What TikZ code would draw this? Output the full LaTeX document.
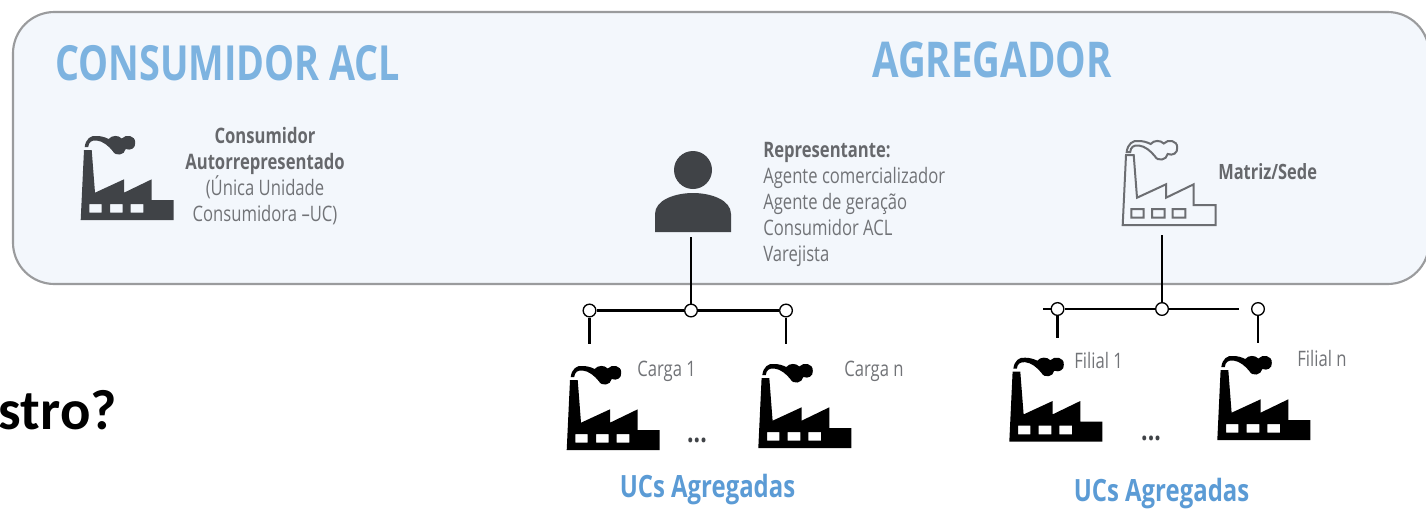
\documentclass[tikz,border=0pt]{standalone}
\usepackage{fontspec}
\setmainfont{Open Sans}[FakeStretch=0.78]
\newfontfamily\cutfont{Carlito}
\definecolor{panelfill}{HTML}{F3F7FC}
\definecolor{panelline}{HTML}{9A9B9D}
\definecolor{titleblue}{HTML}{7DB3E0}
\definecolor{ucblue}{HTML}{5B9BD5}
\definecolor{darkicon}{HTML}{404347}
\definecolor{boldgrey}{HTML}{66686C}
\definecolor{textgrey}{HTML}{717377}
\definecolor{outlinegrey}{HTML}{6C6E72}

\begin{document}
\begin{tikzpicture}[x=0.75pt,y=-0.75pt]
    \tikzset{factory/.pic={
        \path [pic actions,even odd rule] (0,0) -- (3.3,-70) -- (11,-70) -- (14.3,-27.3)
        -- (43.3,-40.7) -- (43.3,-27.3) -- (71,-40.7) -- (71,-20) -- (93,-20) -- (93,0) -- cycle
        (8.7,-16) rectangle (21,-7.3) (29.3,-16) rectangle (42,-7.3) (50,-16) rectangle (62.7,-7.3);
        \path [pic actions] (4,-73) .. controls (5,-81) and (10,-85) .. (16,-84)
        .. controls (20,-84) and (24,-83) .. (28,-81) .. controls (31,-85) and (38,-85) .. (41,-81.5)
        .. controls (45,-86) and (55,-85) .. (54.5,-77) .. controls (55,-72) and (50,-69) .. (45,-71)
        .. controls (44,-65) and (35,-63) .. (32,-69) .. controls (28,-74) and (22,-79) .. (16,-79.5)
        .. controls (11,-80) and (8,-78) .. (7.5,-73) -- cycle;
    }}
    \tikzset{person/.pic={
        \path [pic actions] (0,0) -- (0,-18) .. controls (0,-32) and (20,-39) .. (38,-39)
        .. controls (56,-39) and (76,-32) .. (76,-18) -- (76,0) -- cycle;
        \path [pic actions] (38,-62) circle (19);
    }}
    \tikzstyle{panelbox}=[draw=panelline,fill=panelfill,line width=1.6pt,rounded corners=31pt,
        minimum width=1062pt,minimum height=204pt,inner sep=0pt];
    \tikzstyle{hub}=[draw=black,fill=white,circle,line width=1pt,minimum size=9.5pt,inner sep=0pt];
    \tikzstyle{wire}=[draw=black,line width=1.9pt];
    \tikzstyle{bigtitle}=[text=titleblue,font=\fontsize{37}{42}\bfseries\selectfont,inner sep=0pt];
    \tikzstyle{uctitle}=[text=ucblue,font=\fontsize{23}{27}\bfseries\selectfont,inner sep=0pt];
    \tikzstyle{small}=[text=textgrey,font=\fontsize{16}{19.5}\selectfont,inner sep=0pt];
    \tikzstyle{black icon}=[fill=black];
    \tikzstyle{dark icon}=[fill=darkicon];

    \useasboundingbox (0,0) rectangle (1426,508);

    \node (panel) [panelbox] at (721,148) {};

    \node (cut) [anchor=east,inner sep=0pt,font=\cutfont\fontsize{42.5}{46}\bfseries\selectfont] at (117,410) {stro?};

    \node (acl) [bigtitle,anchor=west,font=\fontsize{36.3}{42}\bfseries\selectfont] at (55,63) {CONSUMIDOR ACL};
    \node (agg) [bigtitle,anchor=west] at (872,60) {AGREGADOR};

    \pic (aclicon) [dark icon] at (80.7,220) {factory};
    \node (acltext) [small,align=center] at (265,176.5) {\textbf{\textcolor{boldgrey}{Consumidor}}\\
        \textbf{\textcolor{boldgrey}{Autorrepresentado}}\\(Única Unidade\\Consumidora –UC)};

    \pic (rep) [dark icon] at (655,232) {person};
    \node (reptext) [small,align=left,anchor=west] at (763,204.5) {\textbf{\textcolor{boldgrey}{Representante:}}\\
        Agente comercializador\\Agente de geração\\Consumidor ACL\\Varejista};

    \pic (sede) [draw=outlinegrey,line width=1.5pt,fill=none] at (1122.7,225) {factory};
    \node (sedetext) [small,anchor=west,text=boldgrey,font=\fontsize{15.8}{19.5}\bfseries\selectfont] at (1218,172) {Matriz/Sede};

    \coordinate (reptop) at (691,237);
    \node (hub1) [hub] at (691,310.5) {};
    \node (leaf1) [hub] at (589.5,310.5) {};
    \node (leaf2) [hub] at (786,310.5) {};
    \coordinate (end1) at (589.5,344);
    \coordinate (end2) at (786,344);

    \coordinate (sedetop) at (1162,235);
    \node (hub2) [hub] at (1162,309) {};
    \node (leaf3) [hub] at (1057.5,309) {};
    \node (leaf4) [hub] at (1258,309) {};
    \coordinate (stub1) at (1043,309);
    \coordinate (stub2) at (1239,309);
    \coordinate (end3) at (1057.5,338);
    \coordinate (end4) at (1258,343);

    \path (reptop) edge [wire] (hub1)
    (hub1) edge [wire] (leaf1) edge [wire] (leaf2)
    (leaf1) edge [wire] (end1) (leaf2) edge [wire] (end2)
    (sedetop) edge [wire] (hub2)
    (hub2) edge [wire] (leaf3) edge [wire] (stub2)
    (leaf3) edge [wire] (stub1) (leaf3) edge [wire] (end3) (leaf4) edge [wire] (end4);

    \pic (carga1) [black icon] at (566.7,450) {factory};
    \pic (cargan) [black icon] at (758.3,448) {factory};
    \pic (filial1) [black icon] at (1009.3,441.7) {factory};
    \pic (filialn) [black icon] at (1217.3,440) {factory};

    \node (c1text) [small,anchor=west] at (637,371) {Carga 1};
    \node (cntext) [small,anchor=west] at (844,371) {Carga n};
    \node (f1text) [small,anchor=west] at (1074,360) {Filial 1};
    \node (fntext) [small,anchor=west] at (1297,358) {Filial n};

    \node (dots1) [inner sep=0pt,text=darkicon,font=\fontsize{22}{24}\bfseries\selectfont] at (697,440) {...};
    \node (dots2) [inner sep=0pt,text=darkicon,font=\fontsize{22}{24}\bfseries\selectfont] at (1151,438) {...};

    \node (uc1) [uctitle] at (707.5,490) {UCs Agregadas};
    \node (uc2) [uctitle] at (1161.5,493.5) {UCs Agregadas};
\end{tikzpicture}
\end{document}
